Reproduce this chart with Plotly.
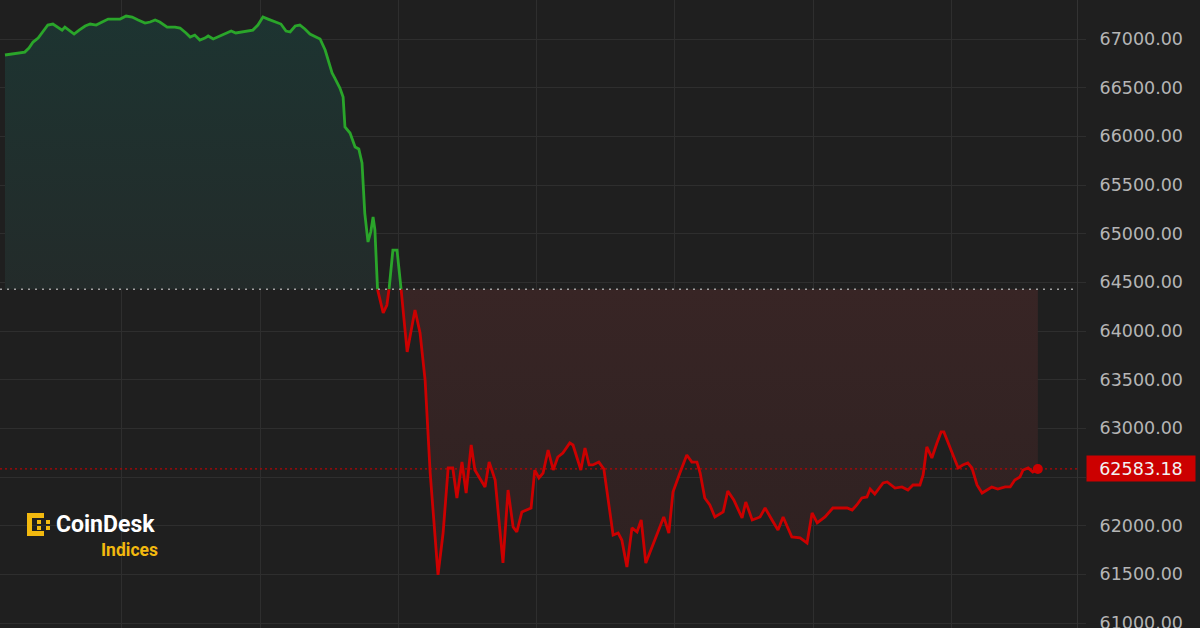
import numpy as np
import plotly.graph_objects as go

# ---- data (hours on the time axis, price in USD) ----
hours = [0.46, 0.61, 0.74, 0.89, 0.98, 1.07, 1.18, 1.29, 1.39, 1.50, 1.61, 1.70, 1.76, 1.87, 1.96,
         2.07, 2.20, 2.31, 2.44, 2.57, 2.70, 2.83, 2.96, 3.09, 3.22, 3.35, 3.50, 3.61, 3.72, 3.82,
         3.98, 4.15, 4.26, 4.39, 4.48, 4.58, 4.69, 4.80, 4.87, 4.98, 5.08, 5.24, 5.37, 5.47, 5.60,
         5.73, 5.84, 5.95, 6.06, 6.17, 6.32, 6.45, 6.56, 6.65, 6.76, 6.86, 6.97, 7.08, 7.21, 7.30,
         7.41, 7.56, 7.62, 7.73, 7.80, 7.84, 7.95, 8.06, 8.14, 8.21, 8.27, 8.34, 8.40, 8.45, 8.49,
         8.54, 8.67, 8.75, 8.80, 8.88, 8.97, 9.06, 9.19, 9.36, 9.47, 9.58, 9.69, 9.86, 9.97, 10.08,
         10.18, 10.27, 10.38, 10.47, 10.58, 10.66, 10.88, 10.97, 11.10, 11.27, 11.38, 11.49, 11.57,
         11.68, 11.79, 11.88, 11.96, 12.05, 12.14, 12.25, 12.36, 12.46, 12.57, 12.72, 12.79, 12.96,
         13.05, 13.14, 13.22, 13.35, 13.46, 13.55, 13.66, 13.77, 13.85, 13.96, 14.07, 14.18, 14.27,
         14.37, 14.46, 14.61, 14.76, 14.87, 14.96, 15.11, 15.26, 15.37, 15.48, 15.55, 15.65, 15.76,
         15.87, 16.05, 16.15, 16.28, 16.46, 16.54, 16.68, 16.85, 16.96, 17.11, 17.24, 17.35, 17.54,
         17.72, 17.87, 17.98, 18.09, 18.26, 18.43, 18.63, 18.74, 18.85, 18.95, 19.06, 19.17, 19.24,
         19.34, 19.52, 19.61, 19.78, 19.93, 20.06, 20.17, 20.32, 20.39, 20.47, 20.58, 20.69, 20.78,
         20.84, 20.93, 21.02, 21.15, 21.25, 21.36, 21.45, 21.56, 21.67, 21.78, 21.88, 22.01, 22.17,
         22.28, 22.38, 22.49, 22.56, 22.67, 22.77, 22.88]
prices = [66836, 66846, 66856, 66866, 66908, 66969, 67010, 67082, 67144, 67154, 67123, 67092, 67123,
          67082, 67051, 67092, 67134, 67154, 67144, 67175, 67205, 67205, 67205, 67236, 67226, 67195,
          67164, 67175, 67195, 67175, 67123, 67123, 67113, 67062, 67021, 67041, 66990, 67010, 67031,
          67000, 67021, 67062, 67082, 67062, 67072, 67082, 67092, 67144, 67226, 67205, 67175, 67154,
          67082, 67072, 67134, 67144, 67103, 67051, 67021, 67000, 66887, 66651, 66599, 66497, 66404,
          66096, 66034, 65891, 65870, 65726, 65212, 64915, 65017, 65171, 65038, 64442, 64185, 64267,
          64442, 64832, 64832, 64421, 63785, 64216, 63980, 63497, 62541, 61494, 61925, 62593, 62593,
          62285, 62654, 62336, 62829, 62572, 62398, 62654, 62470, 61617, 62367, 61987, 61935, 62141,
          62161, 62182, 62572, 62490, 62541, 62778, 62572, 62706, 62747, 62850, 62829, 62572, 62798,
          62624, 62624, 62654, 62583, 62264, 61905, 61925, 61853, 61576, 61977, 61935, 62059, 61617,
          61730, 61905, 62090, 61925, 62346, 62541, 62726, 62654, 62654, 62541, 62285, 62213, 62090,
          62141, 62357, 62264, 62079, 62244, 62059, 62090, 62182, 62059, 61956, 62090, 61884, 61874,
          61822, 62131, 62028, 62090, 62182, 62182, 62182, 62161, 62213, 62285, 62295, 62377, 62326,
          62439, 62449, 62387, 62398, 62367, 62418, 62418, 62521, 62809, 62696, 62850, 62963, 62963,
          62860, 62747, 62593, 62624, 62644, 62593, 62418, 62336, 62367, 62398, 62377, 62398, 62398,
          62470, 62500, 62572, 62593, 62552, 62583.18]
base_price = 64428
y_ticks = [61000, 61500, 62000, 62500, 63000, 63500, 64000, 64500, 65000, 65500, 66000, 66500, 67000]

# ---- styling ----
BG = "#1f1f1f"
GRID = "#2e2e2e"
GREEN = "#2aa52a"
RED = "#cc0000"
TICK_FONT = dict(family="DejaVu Sans", size=17.5, color="#b5b5b5")

t = np.array(hours, dtype=float)
p = np.array(prices, dtype=float)

# insert crossing points with the baseline so the line colour switches exactly there
xs, ys = [t[0]], [p[0]]
for i in range(1, len(t)):
    a, b = p[i - 1] - base_price, p[i] - base_price
    if a * b < 0:
        f = a / (a - b)
        xs.append(t[i - 1] + f * (t[i] - t[i - 1]))
        ys.append(base_price)
    xs.append(t[i])
    ys.append(p[i])
xs = np.array(xs)
ys = np.array(ys)
eps = 1e-6
above = np.where(ys >= base_price - eps, ys, np.nan)
below = np.where(ys <= base_price + eps, ys, np.nan)
base_line = np.full_like(xs, base_price)

fig = go.Figure()
# green fill (above baseline)
fig.add_trace(go.Scatter(x=xs, y=base_line, mode="lines", line=dict(width=0), hoverinfo="skip", showlegend=False))
fig.add_trace(go.Scatter(x=xs, y=np.maximum(ys, base_price), mode="lines", line=dict(width=0),
                         fill="tonexty",
                         fillgradient=dict(type="vertical", start=base_price, stop=float(p.max()),
                                           colorscale=[[0, "rgba(35,43,42,1)"], [1, "rgba(29,52,49,1)"]]),
                         hoverinfo="skip", showlegend=False))
# red fill (below baseline)
fig.add_trace(go.Scatter(x=xs, y=base_line, mode="lines", line=dict(width=0), hoverinfo="skip", showlegend=False))
fig.add_trace(go.Scatter(x=xs, y=np.minimum(ys, base_price), mode="lines", line=dict(width=0),
                         fill="tonexty",
                         fillgradient=dict(type="vertical", start=float(p.min()), stop=base_price,
                                           colorscale=[[0, "rgba(46,33,33,1)"], [1, "rgba(56,37,37,1)"]]),
                         hoverinfo="skip", showlegend=False))
# lines
fig.add_trace(go.Scatter(x=xs, y=above, mode="lines", line=dict(color=GREEN, width=2.8),
                         connectgaps=False, showlegend=False))
fig.add_trace(go.Scatter(x=xs, y=below, mode="lines", line=dict(color=RED, width=2.8),
                         connectgaps=False, showlegend=False))
# last point marker
fig.add_trace(go.Scatter(x=[t[-1]], y=[p[-1]], mode="markers",
                         marker=dict(color=RED, size=10), showlegend=False))

# baseline and last-price dotted lines
fig.add_shape(type="line", xref="paper", x0=0, x1=1, yref="y", y0=base_price, y1=base_price,
              line=dict(color="#a0a0a0", width=1.5, dash="2px,5px"), layer="above")
fig.add_shape(type="line", xref="paper", x0=0, x1=1, yref="y", y0=p[-1], y1=p[-1],
              line=dict(color="rgba(204,0,0,0.85)", width=1.2, dash="2px,3px"), layer="above")

# last price label
fig.add_annotation(xref="paper", x=1, xanchor="left", xshift=9, yref="y", y=p[-1], yanchor="middle",
                   text=f"{p[-1]:.2f}", showarrow=False, bgcolor=RED, width=104, height=21,
                   borderpad=2, font=dict(family="DejaVu Sans", size=17.5, color="#f2f2f2"))

# CoinDesk Indices logo
W, H = 1077.0, 628.0
def px(x):
    return x / W
def py(y):
    return 1 - y / H
YEL = "#f2b90f"
logo_boxes = [
    (27, 513, 32, 536), (27, 513, 44, 518), (27, 531, 44, 536),
    (37, 520, 41, 524), (37, 526, 41, 530), (46, 520, 50, 524), (46, 526, 50, 530),
]
for x0, y0, x1, y1 in logo_boxes:
    fig.add_shape(type="rect", xref="paper", yref="paper", x0=px(x0), x1=px(x1), y0=py(y1), y1=py(y0),
                  fillcolor=YEL, line=dict(width=0), layer="above")
fig.add_annotation(xref="paper", yref="paper", x=px(54), y=py(524), xanchor="left", yanchor="middle",
                   text="<b>CoinDesk</b>", showarrow=False,
                   font=dict(family="Roboto", size=23, color="#ffffff"))
fig.add_annotation(xref="paper", yref="paper", x=px(160), y=py(550), xanchor="right", yanchor="middle",
                   text="<b>Indices</b>", showarrow=False,
                   font=dict(family="Roboto", size=17.5, color=YEL))

fig.update_layout(
    width=1200, height=628,
    margin=dict(l=0, r=123, t=0, b=0, autoexpand=False),
    paper_bgcolor=BG, plot_bgcolor=BG,
    showlegend=False,
    xaxis=dict(range=[0.352, 23.73], tick0=0, dtick=3, showgrid=True, gridcolor=GRID, gridwidth=1,
               showticklabels=False, zeroline=False, ticks="", automargin=False),
    yaxis=dict(side="right", range=[60949, 67401], tickvals=y_ticks,
               ticktext=["" if v == 62500 else f"{v:.2f}" for v in y_ticks],
               showgrid=True, gridcolor=GRID, gridwidth=1, zeroline=False,
               showline=True, linecolor="#333333", linewidth=1,
               ticks="outside", ticklen=8, tickcolor=GRID, ticklabelstandoff=10,
               ticklabeloverflow="allow", automargin=False, tickfont=TICK_FONT),
)

fig.write_html("out.html", config={"displayModeBar": False},
               post_script="document.body.style.margin='0';document.body.style.background='#1f1f1f';")
